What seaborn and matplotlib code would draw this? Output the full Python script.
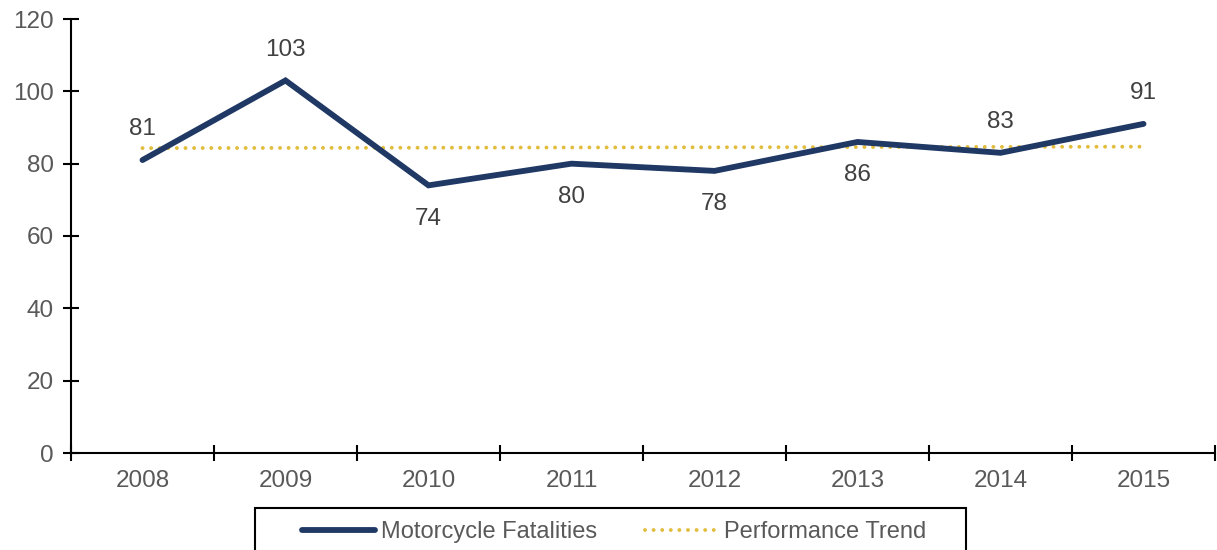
import matplotlib
matplotlib.use('Agg')
import matplotlib.pyplot as plt
import pandas as pd
import seaborn as sns
from matplotlib.patches import Rectangle
from matplotlib.lines import Line2D

# Data
years = [2008, 2009, 2010, 2011, 2012, 2013, 2014, 2015]
fatalities = [81, 103, 74, 80, 78, 86, 83, 91]
label_side = ['above', 'above', 'below', 'below', 'below', 'below', 'above', 'above']
trend_years = [2008, 2015]
trend_values = [84.3, 84.7]

navy = '#1F3864'
gold = '#E2BC3C'
dots = (0, (0.01, 2.2))

sns.set_theme(style='white')
plt.rcParams['font.family'] = ['Liberation Sans', 'DejaVu Sans']

df = pd.DataFrame({'year': years, 'value': fatalities})
df_trend = pd.DataFrame({'year': trend_years, 'value': trend_values})

fig = plt.figure(figsize=(12.17, 5.5), dpi=100)
ax = fig.add_axes([71 / 1217, 1 - 453 / 550, (1215 - 71) / 1217, (453 - 19) / 550])

sns.lineplot(data=df_trend, x='year', y='value', ax=ax, color=gold, linewidth=2.8,
             linestyle=dots, dash_capstyle='round')
ax.lines[-1].set_dash_capstyle('round')
sns.lineplot(data=df, x='year', y='value', ax=ax, color=navy, linewidth=4.2,
             solid_capstyle='round', solid_joinstyle='miter')

# data labels
for x, y, side in zip(years, fatalities, label_side):
    off = 22 if side == 'above' else -24
    ax.annotate(str(y), (x, y), xytext=(0, off), textcoords='offset points',
                ha='center', va='center', fontsize=17.5, color='#404040')

ax.set_xlim(2007.5, 2015.5)
ax.set_ylim(0, 120)
ax.set_yticks(range(0, 121, 20))
ax.set_xticks([y - 0.5 for y in years] + [2015.5])
ax.set_xticklabels([])
ax.set_xticks(years, minor=True)
ax.set_xticklabels([str(y) for y in years], minor=True)
ax.set_xlabel('')
ax.set_ylabel('')

for s in ['top', 'right']:
    ax.spines[s].set_visible(False)
for s in ['left', 'bottom']:
    ax.spines[s].set_color('black')
    ax.spines[s].set_linewidth(1.5)

ax.tick_params(axis='y', which='major', direction='inout', length=11, width=1.5,
               color='black', left=True, labelsize=17.5, labelcolor='#595959', pad=7)
ax.tick_params(axis='x', which='major', direction='inout', length=11, width=1.5,
               color='black', bottom=True)
ax.tick_params(axis='x', which='minor', length=0, labelsize=17.5, labelcolor='#595959', pad=12)

# legend
handles = [Line2D([], [], color=navy, linewidth=4.2, solid_capstyle='round'),
           Line2D([], [], color=gold, linewidth=2.8, linestyle=dots,
                  dash_capstyle='round')]
leg = fig.legend(handles, ['Motorcycle Fatalities', 'Performance Trend'],
                 loc='center', bbox_to_anchor=(614 / 1217, 1 - 532 / 550), ncol=2,
                 frameon=False, fontsize=17, handlelength=3.1, handletextpad=0.25,
                 columnspacing=2.0, labelcolor='#595959')
fig.patches.append(Rectangle((255 / 1217, -0.05), (966 - 255) / 1217, 0.05 + 1 - 508 / 550,
                             transform=fig.transFigure, fill=False, edgecolor='black',
                             linewidth=1.5))

fig.savefig('out.png', dpi=100)
